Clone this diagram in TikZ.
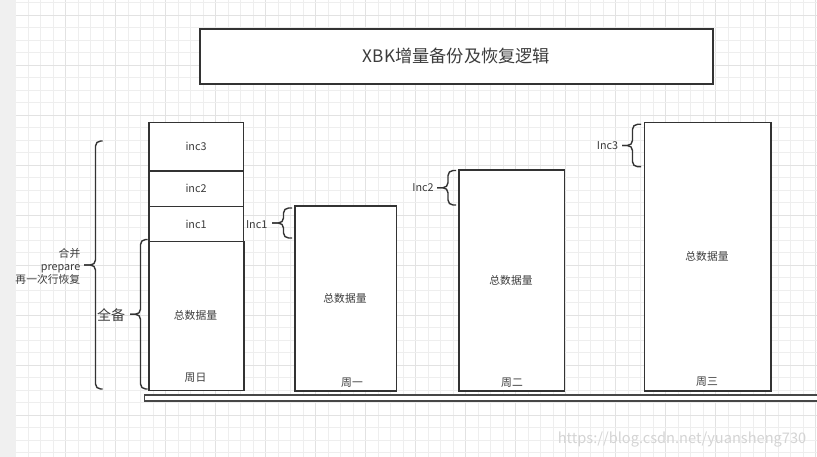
\documentclass[tikz,border=0pt]{standalone}
\usepackage{fontspec}
\setmainfont{Noto Sans CJK SC}
\definecolor{ink}{HTML}{333333}
\definecolor{txt}{HTML}{3C3C3C}
\definecolor{gminor}{HTML}{EEEEEE}
\definecolor{gmajor}{HTML}{E2E2E2}
\definecolor{strip}{HTML}{F0F0F0}
\tikzset{
  box/.style={draw=ink, line width=1.6pt, fill=white, inner sep=0pt, anchor=north west},
  boxtext/.style={text=txt, font=\fontsize{10.8}{12}\selectfont, inner sep=0pt},
  lbl/.style={text=txt, font=\fontsize{10.8}{13}\selectfont, inner sep=0pt},
  brcline/.style={draw=ink, line width=1.4pt, rounded corners=5pt}
}
% curly bracket: #1 end x, #2 vertical x, #3 tip x, #4 top y, #5 bottom y
\newcommand\curlybr[5]{%
  \pgfmathsetmacro\bym{(#4+#5)/2}%
  \draw[brcline] (#1,#4) -- (#2,#4) -- (#2,\bym) -- (#3,\bym);
  \draw[brcline] (#3,\bym) -- (#2,\bym) -- (#2,#5) -- (#1,#5);
}
\begin{document}
\begin{tikzpicture}[x=1pt,y=-1pt]
\useasboundingbox (0,0) rectangle (817,457);
\fill[white] (0,0) rectangle (817,457);
% grid
\foreach \i in {0,...,64}{
  \pgfmathsetmacro\gx{15.7+12.5*\i}
  \pgfmathtruncatemacro\m{mod(\i,4)}
  \ifnum\m=0 \draw[gmajor, line width=0.8pt] (\gx,0) -- (\gx,457);
  \else \draw[gminor, line width=0.7pt] (\gx,0) -- (\gx,457); \fi
}
\foreach \j in {0,...,36}{
  \pgfmathsetmacro\gy{2.5+12.5*\j}
  \pgfmathtruncatemacro\m{mod(\j+3,4)}
  \ifnum\m=0 \draw[gmajor, line width=0.8pt] (15.7,\gy) -- (817,\gy);
  \else \draw[gminor, line width=0.7pt] (15.7,\gy) -- (817,\gy); \fi
}
\fill[strip] (0,0) rectangle (15.5,457);

% title
\node[box, minimum width=513pt, minimum height=55pt] (title) at (199,28) {};
\node[text=txt, font=\fontsize{17.2}{19}\selectfont, inner sep=0pt] (titletext) at (456.5,56) {XBK增量备份及恢复逻辑};

% baseline
\draw[ink!90, line width=1.5pt, fill=white] (822,395) -- (144.5,395) -- (144.5,401) -- (822,401);

% Sunday
\node[box, minimum width=94.5pt, minimum height=48.3pt] (inc3) at (148,121.7) {};
\node[box, minimum width=94.5pt, minimum height=35.7pt] (inc2) at (148,170) {};
\node[box, minimum width=94.5pt, minimum height=35pt] (inc1) at (148,205.7) {};
\node[box, minimum width=95pt, minimum height=149pt] (sun) at (148,240.7) {};
\node[boxtext] at (inc3.center) {inc3};
\node[boxtext] at (inc2.center) {inc2};
\node[boxtext] at (inc1.center) {inc1};
\node[boxtext] (suntot) at (195.5,315) {总数据量};
\node[boxtext] (sunday) at (195.5,378) {周日};

% Monday
\node[box, minimum width=101.5pt, minimum height=185pt] (mon) at (294,205) {};
\node[boxtext] (montot) at (345,298.3) {总数据量};
\node[boxtext] (monday) at (352,382.5) {周一};

% Tuesday
\node[box, minimum width=105.5pt, minimum height=220.5pt] (tue) at (458.3,169.5) {};
\node[boxtext] (tuetot) at (511,280) {总数据量};
\node[boxtext] (tueday) at (512,382.5) {周二};

% Wednesday
\node[box, minimum width=126.5pt, minimum height=268.3pt] (wed) at (643.5,121.7) {};
\node[boxtext] (wedtot) at (707,256) {总数据量};
\node[boxtext] (wedday) at (707,381.7) {周三};

% braces
\curlybr{102.5}{95.5}{84}{141}{389}
\node[lbl, align=right, anchor=east] (merge) at (80.5,266.5) {合并\\prepare\\再一次行恢复};

\curlybr{147.5}{140.5}{130}{239.5}{389}
\node[text=txt, font=\fontsize{14}{16}\selectfont, inner sep=0pt] (full) at (111,315) {全备};

\curlybr{292}{283.5}{272}{208}{238}
\node[lbl] (l1) at (256.7,224.3) {Inc1};

\curlybr{456}{448}{437}{170.5}{205}
\node[lbl] (l2) at (423,188) {Inc2};

\curlybr{641}{632.5}{622}{124.3}{166.7}
\node[lbl] (l3) at (607.5,146) {Inc3};

% watermark
\node[text=black!17, font=\fontsize{14.6}{16}\selectfont, inner sep=0pt] (wm) at (682,439.5) {https://blog.csdn.net/yuansheng730};
\end{tikzpicture}
\end{document}
